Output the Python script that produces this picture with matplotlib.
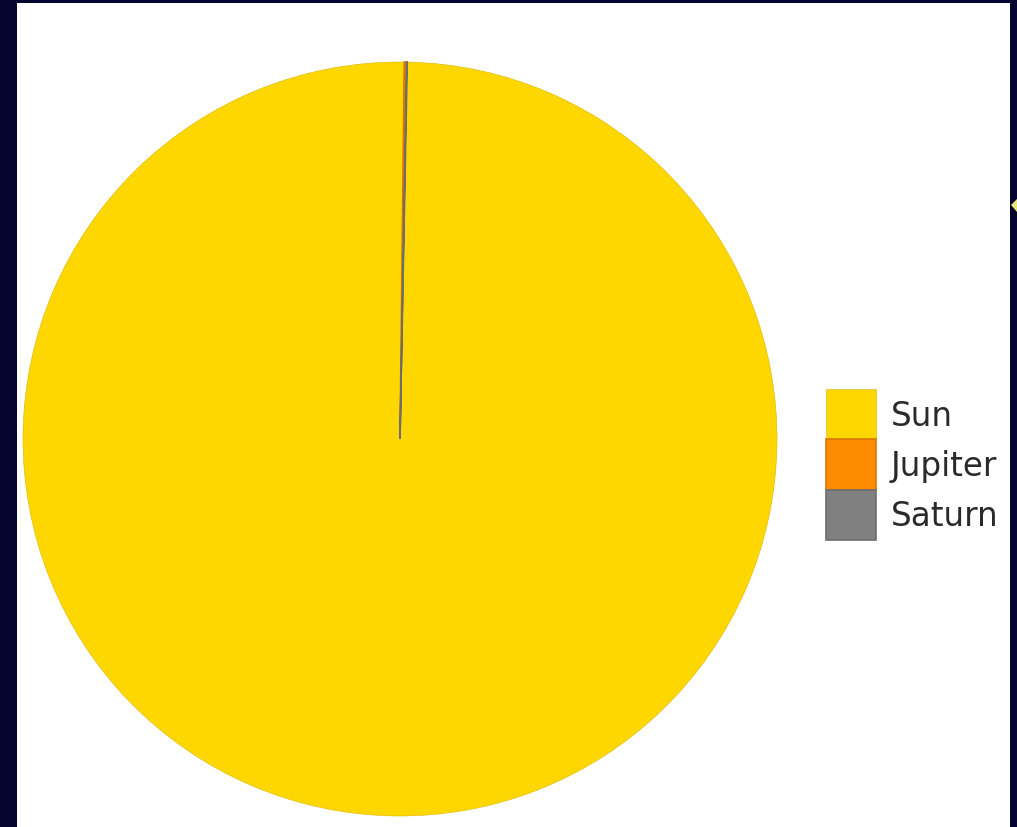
import matplotlib.pyplot as plt
from matplotlib.colors import to_rgb
from matplotlib.patches import Polygon

# masses in 10^24 kg
bodies = ["Sun", "Jupiter", "Saturn"]
masses = [1989100, 1898, 568]
colors = ["#FFD700", "#FF8C00", "#808080"]

fig = plt.figure(figsize=(10.17, 8.28), dpi=100, facecolor="#04042e")

# white slide panel
bg = fig.add_axes([17 / 1017, 0, 993 / 1017, 824 / 828])
bg.set_facecolor("white")
bg.set_xticks([])
bg.set_yticks([])
for s in bg.spines.values():
    s.set_visible(False)

ax = fig.add_axes([23 / 1017, 11 / 828, 754 / 1017, 754 / 828])
wedges, _ = ax.pie(masses, colors=colors, startangle=88.9, counterclock=False,
                   radius=1.0, wedgeprops=dict(linewidth=0.6))
for w, c in zip(wedges, colors):
    r, g, b = to_rgb(c)
    w.set_edgecolor((r * 0.85, g * 0.85, b * 0.85))
wedges[0].set_linewidth(0.4)
wedges[1].set_linewidth(1.2)
wedges[2].set_linewidth(1.2)
ax.set_xlim(-1, 1)
ax.set_ylim(-1, 1)
ax.set_aspect("equal")
ax.axis("off")

leg = fig.legend(wedges, bodies, loc="upper left",
                 bbox_to_anchor=(826 / 1017, 1 - 390 / 828),
                 frameon=False, fontsize=23.5, labelspacing=0.0,
                 handlelength=1.54, handleheight=2.0, handletextpad=0.45,
                 borderpad=0, borderaxespad=0)
for t in leg.get_texts():
    t.set_color("#2a2a2a")

# small yellow fragment of slide content peeking in at the right edge
frag = Polygon([(1017 / 1017, 1 - 200 / 828), (1011 / 1017, 1 - 206 / 828),
                (1017 / 1017, 1 - 213 / 828)], closed=True,
               transform=fig.transFigure, facecolor="#e6e67a",
               edgecolor="none")
fig.patches.append(frag)

fig.savefig("out.png", dpi=100, facecolor=fig.get_facecolor())
